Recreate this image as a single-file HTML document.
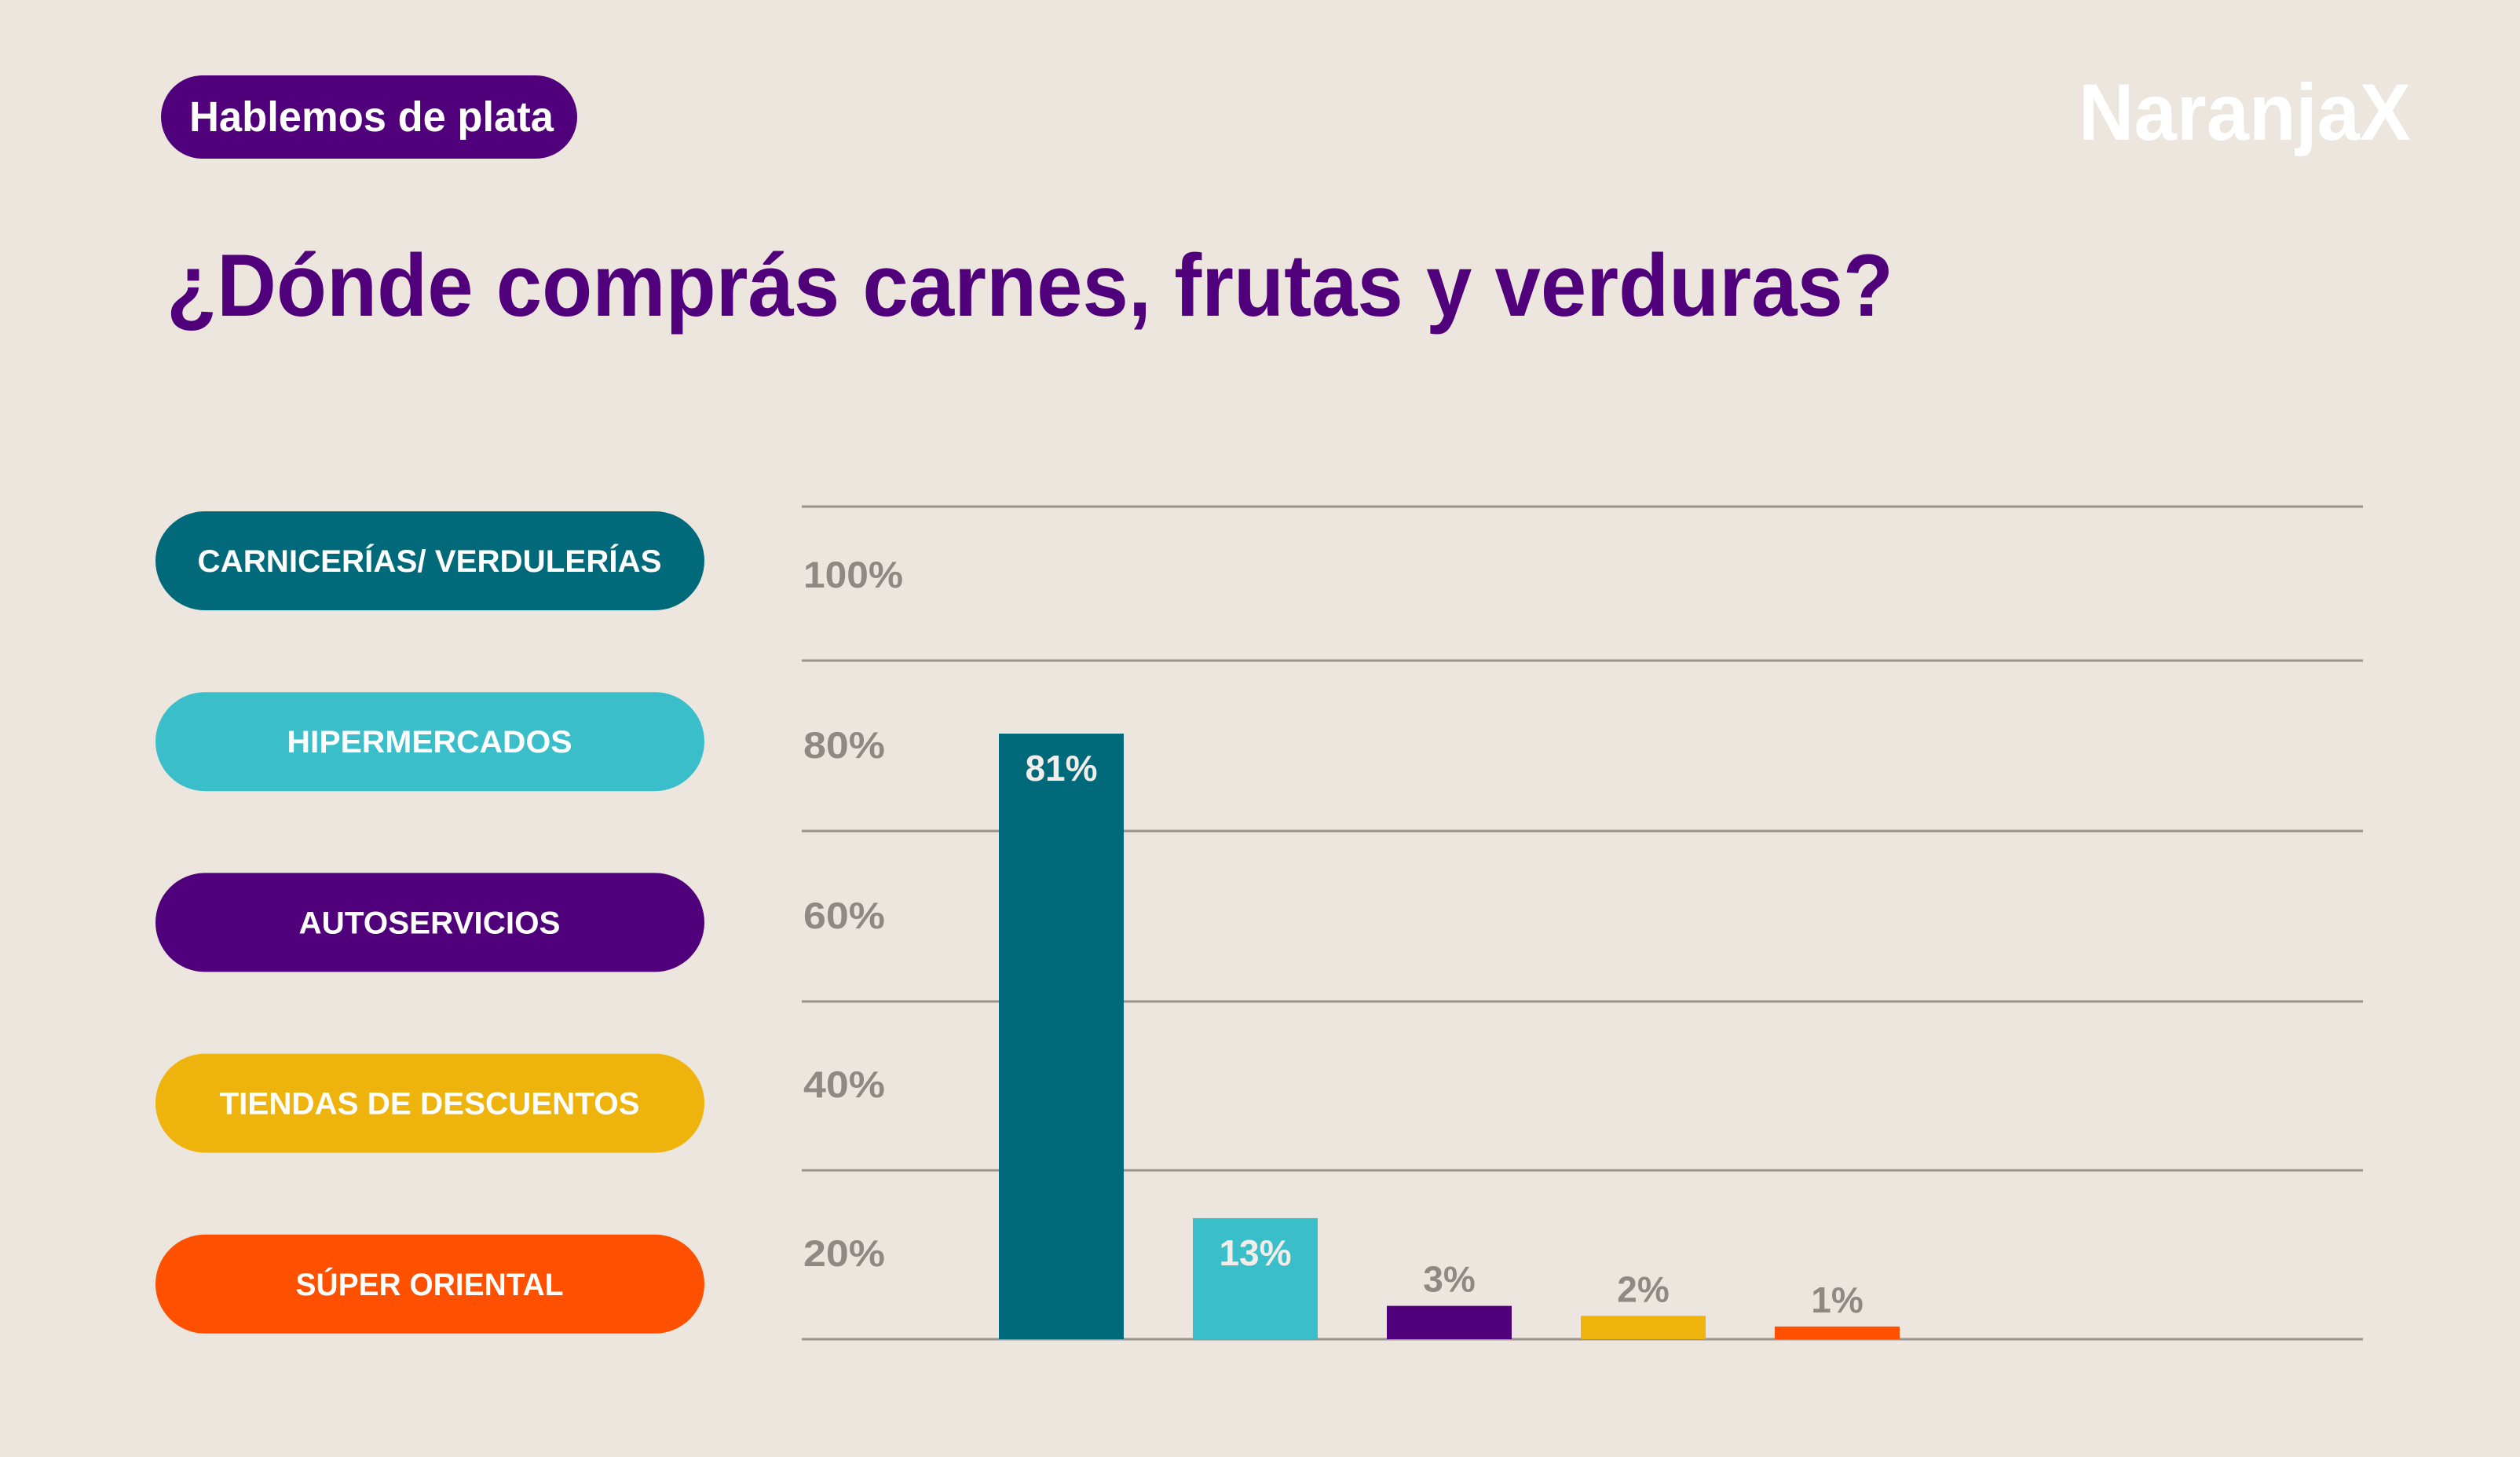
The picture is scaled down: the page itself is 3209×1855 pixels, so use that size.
<!DOCTYPE html>
<html><head><meta charset="utf-8">
<style>
html,body{margin:0;padding:0;background:#ede6df;}
svg{display:block;}
text{font-family:"Liberation Sans",sans-serif;font-weight:bold;}
</style></head>
<body>
<svg id="chart" width="3209" height="1855" viewBox="0 0 3209 1855" xmlns="http://www.w3.org/2000/svg">
<rect x="0" y="0" width="3209" height="1855" fill="#ede6df"/>
<g>
<rect x="205" y="96" width="530" height="106" rx="53" fill="#4f007a"/>
<text x="241" y="167" font-size="54" fill="#ffffff" textLength="464" lengthAdjust="spacingAndGlyphs">Hablemos de plata</text>
</g>
<text x="2647" y="178" font-size="102" fill="#ffffff" textLength="423" lengthAdjust="spacingAndGlyphs">NaranjaX</text>
<text x="212" y="402" font-size="112" fill="#4f007a" textLength="2199" lengthAdjust="spacingAndGlyphs">¿Dónde comprás carnes, frutas y verduras?</text>
<g id="legend"></g>
<g id="grid"></g>
<g id="ticks"></g>
<g id="bars"></g>
</svg>
<script>
const categories = ["CARNICERÍAS/ VERDULERÍAS","HIPERMERCADOS","AUTOSERVICIOS","TIENDAS DE DESCUENTOS","SÚPER ORIENTAL"];
const values = [81, 13, 3, 2, 1];
const valueLabels = ["81%","13%","3%","2%","1%"];
const tickLabels = ["100%","80%","60%","40%","20%"];
const colors = ["#00697a","#3abec9","#4f007a","#eeb30d","#ff5000"];

const NS = "http://www.w3.org/2000/svg";
function mk(tag, attrs, parent){const e=document.createElementNS(NS,tag);for(const k in attrs)e.setAttribute(k,attrs[k]);parent.appendChild(e);return e;}
const baseY = 1705;
function yScale(v){return baseY - 771*Math.pow(v/81,0.88);}
function xScale(i){return 1272 + i*247;}
const barW = 159;

const legend=document.getElementById('legend');
const legendTextW=[591,363,333,535,341];
categories.forEach((c,i)=>{
  const y=651+i*230.2;
  const r=mk('rect',{x:198,y:y,width:699,height:126,rx:63,fill:colors[i]},legend);
  
  
  const t=mk('text',{x:547,y:y+77,'font-size':40,fill:'#ffffff','text-anchor':'middle',textLength:legendTextW[i],lengthAdjust:'spacingAndGlyphs'},legend);
  t.textContent=c;
  
  
});

const grid=document.getElementById('grid');
[645,841,1058,1275,1490,1705].forEach(y=>{
  const l=mk('line',{x1:1021,x2:3009,y1:y,y2:y,stroke:'#9a948f','stroke-width':3},grid);
  
  
});

const ticks=document.getElementById('ticks');
const tickY=[748,965,1182,1397,1612];
tickLabels.forEach((t,i)=>{
  const e=mk('text',{x:1023,y:tickY[i],'font-size':47,fill:'#8f8883',textLength:t.length===4?127:104,lengthAdjust:'spacingAndGlyphs'},ticks);
  e.textContent=t;
  
  
});

const bars=document.getElementById('bars');
values.forEach((v,i)=>{
  const top=yScale(v);
  const r=mk('rect',{x:xScale(i),y:top,width:barW,height:baseY-top,fill:colors[i]},bars);
  
  
  const h=baseY-top;
  const inside=h>100;
  const t=mk('text',{x:xScale(i)+barW/2,y:inside?top+60:top-18,'font-size':46,fill:inside?'#f2ede8':'#8f8883','text-anchor':'middle'},bars);
  t.textContent=valueLabels[i];
  
  
});
</script>
</body></html>
